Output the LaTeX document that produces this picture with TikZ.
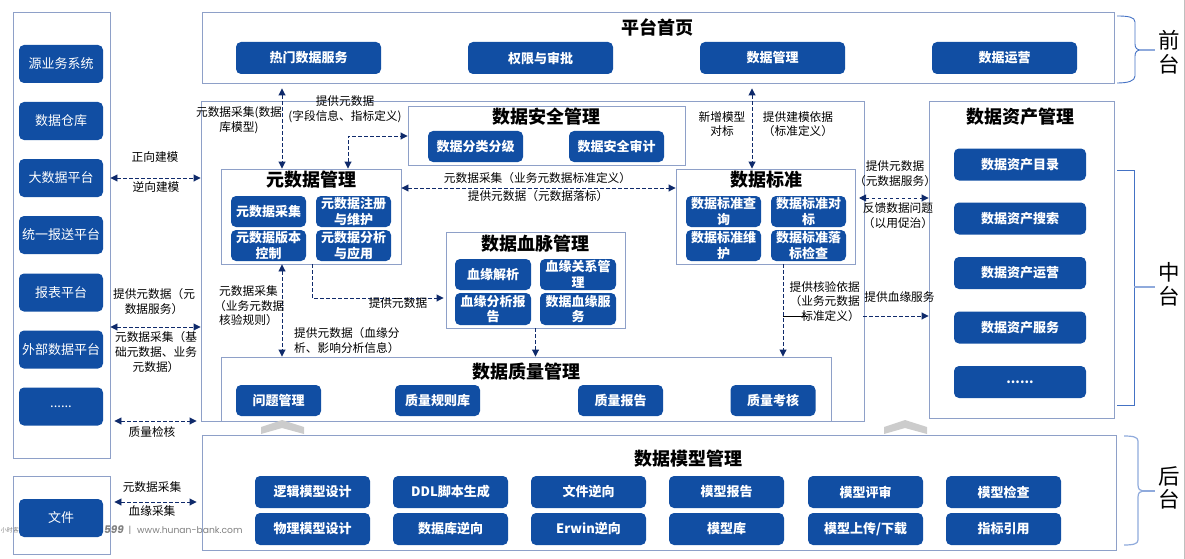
\documentclass[tikz,border=0pt]{standalone}
\usepackage{fontspec}
\setmainfont{Noto Sans CJK SC}
\newfontfamily\wmfont{Poppins}
\usetikzlibrary{arrows.meta}
\definecolor{btnblue}{RGB}{17,78,163}
\definecolor{edgeblue}{RGB}{142,160,200}
\definecolor{flownavy}{RGB}{15,42,107}
\definecolor{bracedark}{RGB}{68,114,196}
\definecolor{bracelight}{RGB}{143,170,220}
\tikzset{
  panel/.style={draw=edgeblue, line width=0.9pt, inner sep=0pt},
  title/.style={font=\fontsize{18}{20}\selectfont\bfseries, inner sep=0pt},
  btn/.style={fill=btnblue, rounded corners=5pt, text=white, align=center, inner sep=0pt,
    font=\fontsize{13}{15.5}\selectfont\bfseries},
  srcbtn/.style={btn, minimum width=84pt, minimum height=38pt, font=\fontsize{13}{15.5}\selectfont},
  topbtn/.style={btn, minimum width=145pt, minimum height=32pt},
  secbtn/.style={btn, minimum width=95pt, minimum height=31pt},
  subbtn/.style={btn, minimum width=75pt, minimum height=31pt},
  qualbtn/.style={btn, minimum width=85pt, minimum height=31pt},
  assetbtn/.style={btn, minimum width=132pt, minimum height=32pt},
  modelbtn/.style={btn, minimum width=115pt, minimum height=32pt},
  lab/.style={font=\fontsize{11.7}{14.6}\selectfont, align=center, inner sep=0pt},
  wmark/.style={text=black!50, inner sep=0pt, font=\wmfont\fontsize{9.2}{10}\selectfont},
  flow/.style={draw=flownavy, line width=0.9pt, dash pattern=on 3.5pt off 2.5pt,
    {Triangle[length=7pt,width=7pt]}-{Triangle[length=7pt,width=7pt]}},
  flowone/.style={draw=flownavy, line width=0.9pt, dash pattern=on 3.5pt off 2.5pt,
    -{Triangle[length=7pt,width=7pt]}},
  chevron/.style={fill=black!20, draw=none},
  bracket/.style={draw=bracedark, line width=0.9pt},
  tipline/.style={draw=bracelight, line width=1.2pt},
  side/.style={font=\fontsize{21.5}{23.5}\selectfont, align=center, inner sep=0pt}
}
\begin{document}
\begin{tikzpicture}[x=1pt,y=-1pt]
\useasboundingbox (0,0) rectangle (1185,559);

\draw[black!25, line width=0.8pt] (1184,0) -- (1184,559);

\node[wmark, font=\fontsize{6}{7}\selectfont] (wmone) at (10,530) {小时客};
\node[wmark, anchor=east, font=\wmfont\fontsize{10.5}{11}\selectfont\bfseries\itshape] (wmtwo) at (124,530) {599};
\node[wmark] (wmbar) at (130,530) {|};
\node[wmark, anchor=west] (wmurl) at (137,530) {www.hunan-bank.com};

\node[panel, minimum width=97pt, minimum height=446pt] (srcpanel) at (61.5,235) {};
\node[panel, minimum width=97pt, minimum height=78pt] (filepanel) at (61.5,515) {};
\node[panel, minimum width=912pt, minimum height=71pt] (toppanel) at (658,47.5) {};
\node[panel, minimum width=663pt, minimum height=320pt] (midpanel) at (532.5,261) {};
\node[panel, minimum width=277pt, minimum height=59pt] (secpanel) at (546.5,135.5) {};
\node[panel, minimum width=180pt, minimum height=95pt] (metapanel) at (311,216.5) {};
\node[panel, minimum width=179pt, minimum height=95pt] (stdpanel) at (765.5,216.5) {};
\node[panel, minimum width=179pt, minimum height=96pt] (bloodpanel) at (535.5,280) {};
\node[panel, minimum width=610pt, minimum height=64pt] (qualpanel) at (526,389) {};
\node[panel, minimum width=185pt, minimum height=317pt] (assetpanel) at (1021.5,259.5) {};
\node[panel, minimum width=914pt, minimum height=115pt] (backpanel) at (659,492.5) {};

\node[srcbtn] (srcone) at (61,64) {源业务系统};
\node[srcbtn] (srctwo) at (61,121) {数据仓库};
\node[srcbtn] (bigdata) at (61,178) {大数据平台};
\node[srcbtn] (report) at (61,235) {统一报送平台};
\node[srcbtn] (srcfive) at (61,292.5) {报表平台};
\node[srcbtn] (outer) at (61,349.5) {外部数据平台};
\node[srcbtn] (srcmore) at (61,406.5) {......};
\node[srcbtn] (filebtn) at (61,518) {文件};

\node[title] (toptitle) at (657,27) {平台首页};
\node[topbtn] (topone) at (308.5,58) {热门数据服务};
\node[topbtn] (toptwo) at (540.5,58) {权限与审批};
\node[topbtn] (topthree) at (772.5,58) {数据管理};
\node[topbtn] (topfour) at (1004.5,58) {数据运营};

\node[title] (sectitle) at (546,117) {数据安全管理};
\node[secbtn] (secone) at (475.5,146.5) {数据分类分级};
\node[secbtn] (sectwo) at (616.5,146.5) {数据安全审计};

\node[title] (metatitle) at (311,180) {元数据管理};
\node[subbtn] (metaone) at (268.5,211.5) {元数据采集};
\node[subbtn] (metatwo) at (353.5,211.5) {元数据注册\\与维护};
\node[subbtn] (metathree) at (268.5,245.5) {元数据版本\\控制};
\node[subbtn] (metafour) at (353.5,245.5) {元数据分析\\与应用};

\node[title] (stdtitle) at (766,180) {数据标准};
\node[subbtn] (stdone) at (723.5,211.5) {数据标准查\\询};
\node[subbtn] (stdtwo) at (808.5,211.5) {数据标准对\\标};
\node[subbtn] (stdthree) at (723.5,245.5) {数据标准维\\护};
\node[subbtn] (stdfour) at (808.5,245.5) {数据标准落\\标检查};

\node[title] (bloodtitle) at (535,244) {数据血脉管理};
\node[subbtn, minimum width=76pt] (bloodone) at (493,274.5) {血缘解析};
\node[subbtn, minimum width=76pt] (bloodtwo) at (578,274.5) {血缘关系管\\理};
\node[subbtn, minimum width=76pt, minimum height=32pt] (bloodthree) at (493,309) {血缘分析报\\告};
\node[subbtn, minimum width=76pt, minimum height=32pt] (bloodfour) at (578,309) {数据血缘服\\务};

\node[title] (qualtitle) at (526,372) {数据质量管理};
\node[qualbtn] (qualone) at (278.5,400.5) {问题管理};
\node[qualbtn] (qualtwo) at (437.5,400.5) {质量规则库};
\node[qualbtn] (qualthree) at (620.5,400.5) {质量报告};
\node[qualbtn] (qualfour) at (773,400.5) {质量考核};

\node[title] (assettitle) at (1020,117) {数据资产管理};
\node[assetbtn] (assetone) at (1020,164.5) {数据资产目录};
\node[assetbtn] (assettwo) at (1020,218.5) {数据资产搜索};
\node[assetbtn] (assetthree) at (1020,273) {数据资产运营};
\node[assetbtn] (assetfour) at (1020,327.5) {数据资产服务};
\node[assetbtn] (assetmore) at (1020,382) {......};

\node[title] (backtitle) at (688,459) {数据模型管理};
\node[modelbtn] (modelone) at (312.5,492) {逻辑模型设计};
\node[modelbtn] (modeltwo) at (450.5,492) {DDL脚本生成};
\node[modelbtn] (modelthree) at (588.5,492) {文件逆向};
\node[modelbtn] (modelfour) at (726.5,492) {模型报告};
\node[modelbtn] (modelfive) at (865.5,492) {模型评审};
\node[modelbtn] (modelsix) at (1003.5,492) {模型检查};
\node[modelbtn] (modelseven) at (312.5,529) {物理模型设计};
\node[modelbtn] (modeleight) at (450.5,529) {数据库逆向};
\node[modelbtn] (modelnine) at (588.5,529) {Erwin逆向};
\node[modelbtn] (modelten) at (726.5,529) {模型库};
\node[modelbtn] (modeleleven) at (865.5,529) {模型上传/下载};
\node[modelbtn] (modeltwelve) at (1003.5,529) {指标引用};

\fill[chevron] (261,427) -- (282,420) -- (304,427) -- (304,434) -- (282,428) -- (261,434) -- cycle;
\fill[chevron] (884,427) -- (905,420) -- (927,427) -- (927,434) -- (905,428) -- (884,434) -- cycle;

\coordinate (rowmeta) at (155,327);
\coordinate (rowqual) at (155,421);
\coordinate (rowfile) at (155,502);
\coordinate (colmeta) at (282,130);
\coordinate (colsec) at (348,136);
\coordinate (rowstd) at (540,188);
\coordinate (colblood) at (312,298);
\coordinate (colstd) at (752,130);
\coordinate (colcheck) at (783,316);
\coordinate (linkfrom) at (863,316);
\coordinate (solidend) at (808,316);
\coordinate (assetfrom) at (859,198);

\draw[flow] (srcpanel.east |- bigdata) -- (midpanel.west |- bigdata);
\draw[flow] (srcpanel.east |- rowmeta) -- (midpanel.west |- rowmeta);
\draw[flow, shorten <=4pt, shorten >=4pt] (srcpanel.east |- rowqual) -- (midpanel.west |- rowqual);
\draw[flow, shorten <=4pt, shorten >=5pt] (filepanel.east |- rowfile) -- (backpanel.west |- rowfile);
\draw[flow, shorten <=5pt] (colmeta |- toppanel.south) -- (colmeta |- metapanel.north);
\draw[flow] (colsec |- metapanel.north) -- (colsec) -- (secpanel.west |- colsec);
\draw[flow] (metapanel.east |- rowstd) -- (stdpanel.west |- rowstd);
\draw[flow] (colmeta |- metapanel.south) -- (colmeta |- qualpanel.north);
\draw[flowone, shorten >=2pt] (colblood |- metapanel.south) -- (colblood) -- (bloodpanel.west |- colblood);
\draw[flowone] (bloodpanel.south) -- (bloodpanel.south |- qualpanel.north);
\draw[flow, shorten <=5pt] (colstd |- toppanel.south) -- (colstd |- stdpanel.north);
\draw[flowone] (colcheck |- stdpanel.south) -- (colcheck |- qualpanel.north);
\draw[black, line width=0.8pt] (colcheck) -- (solidend);
\draw[flowone] (linkfrom) -- (assetpanel.west |- linkfrom);
\draw[flow] (assetfrom) -- (assetpanel.west |- assetfrom);

\node[lab] (labfwd) at (155,157) {正向建模};
\node[lab] (labrev) at (156,187) {逆向建模};
\node[lab] (labsvc) at (154,301.5) {提供元数据（元\\数据服务）};
\node[lab] (labbase) at (156,352) {元数据采集（基\\础元数据、业务\\元数据）};
\node[lab] (labqual) at (152,432) {质量检核};
\node[lab] (labfileone) at (152,487) {元数据采集};
\node[lab] (labfiletwo) at (152,511.5) {血缘采集};
\node[lab] (labdb) at (239,120) {元数据采集(数据\\库模型)};
\node[lab] (labfield) at (345,109.5) {提供元数据\\(字段信息、指标定义)};
\node[lab] (labstdone) at (537.5,178) {元数据采集（业务元数据标准定义）};
\node[lab] (labstdtwo) at (538,196) {提供元数据（元数据落标）};
\node[lab] (labnew) at (722,124) {新增模型\\对标};
\node[lab] (labbasis) at (798,124) {提供建模依据\\（标准定义）};
\node[lab] (labasset) at (895,173.5) {提供元数据\\（元数据服务）};
\node[lab] (labfeed) at (898,215.5) {反馈数据问题\\（以用促治）};
\node[lab, anchor=east, align=right] (labcheck) at (860,301.5) {提供核验依据\\（业务元数据\\标准定义）\hspace{-6pt}};
\node[lab] (labline) at (899.5,297) {提供血缘服务};
\node[lab, anchor=west, align=left] (labrule) at (219,306) {元数据采集\\\hspace*{-5pt}（业务元数据\\核验规则）};
\node[lab] (labmeta) at (398,303) {提供元数据};
\node[lab, anchor=west, align=left] (labimpact) at (294,340.5) {提供元数据（血缘分\\析、影响分析信息）};

\draw[bracket] (1117,16) .. controls (1128,16) and (1135,17) .. (1135,22) -- (1135,44) .. controls (1135,48) and (1137,50) .. (1141,50) .. controls (1137,50) and (1135,52) .. (1135,56) -- (1135,76) .. controls (1135,81) and (1128,83) .. (1117,83);
\draw[tipline] (1140,50) -- (1155,50);
\draw[bracket] (1117,170) -- (1134,170) -- (1134,405) -- (1117,405);
\draw[tipline] (1134,287) -- (1155,287);
\draw[bracket, draw=bracelight, line width=1.2pt] (1124,436) .. controls (1133,436) and (1138,437) .. (1138,441) -- (1138,485) .. controls (1138,489) and (1140,491) .. (1143,491) .. controls (1140,491) and (1138,493) .. (1138,497) -- (1138,540) .. controls (1138,544) and (1133,545) .. (1124,545);
\draw[tipline] (1142,491) -- (1155,491);

\node[side] (front) at (1169,52.5) {前\\台};
\node[side] (middle) at (1169,284.5) {中\\台};
\node[side] (backend) at (1169,488) {后\\台};
\end{tikzpicture}
\end{document}
